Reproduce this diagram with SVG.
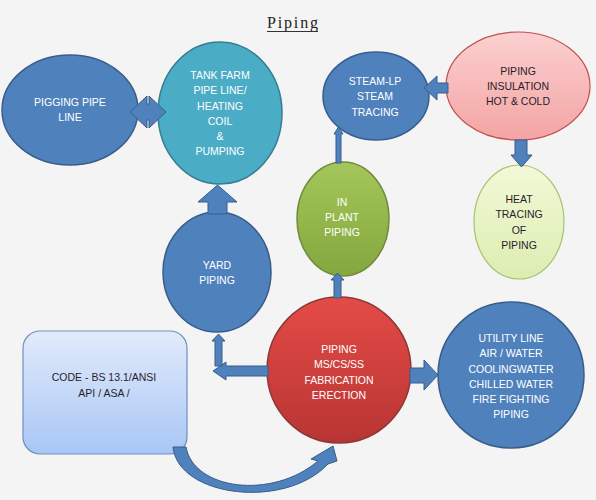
<svg xmlns="http://www.w3.org/2000/svg" width="596" height="500" viewBox="0 0 596 500">
<defs>
<linearGradient id="gRed" x1="0" y1="0" x2="0" y2="1"><stop offset="0" stop-color="#e44b47"/><stop offset="1" stop-color="#b83533"/></linearGradient>
<linearGradient id="gGreen" x1="0" y1="0" x2="0" y2="1"><stop offset="0" stop-color="#a4c65a"/><stop offset="1" stop-color="#84a83e"/></linearGradient>
<linearGradient id="gPink" x1="0" y1="0" x2="0" y2="1"><stop offset="0" stop-color="#fbd0d0"/><stop offset="1" stop-color="#f4a4a4"/></linearGradient>
<linearGradient id="gLight" x1="0" y1="0" x2="0" y2="1"><stop offset="0" stop-color="#f2f9d8"/><stop offset="1" stop-color="#dcedb0"/></linearGradient>
<linearGradient id="gCode" x1="0" y1="0" x2="0" y2="1"><stop offset="0" stop-color="#e2ebfb"/><stop offset="1" stop-color="#a8c6f6"/></linearGradient>
</defs>
<style>
.blue{fill:#4f81bd;stroke:#385d8a;stroke-width:1.5}
.teal{fill:#4bacc6;stroke:#357d91;stroke-width:1.5}
.red{fill:url(#gRed);stroke:#8c3836;stroke-width:1.5}
.green{fill:url(#gGreen);stroke:#71893f;stroke-width:1.5}
.pink{fill:url(#gPink);stroke:#c0504d;stroke-width:1.2}
.light{fill:url(#gLight);stroke:#a8c070;stroke-width:1.2}
.code{fill:url(#gCode);stroke:#6f8fbd;stroke-width:1.2}
.arr{fill:#4f81bd;stroke:#385d8a;stroke-width:1}
text{font-family:"Liberation Sans",Arial,sans-serif;font-size:10.5px;text-anchor:middle}
.w{fill:#ffffff}
.d{fill:#2a1c2c}
.title{font-family:"Liberation Serif","Times New Roman",serif;font-size:16px;fill:#222222;text-anchor:start}
</style>
<rect width="596" height="500" fill="#f4f4f4"/>
<g id="title">
<text class="title" x="267" y="28" textLength="51">Piping</text>
<line x1="267" y1="31.5" x2="318" y2="31.5" stroke="#333333" stroke-width="1"/>
</g>
<g id="pigging">
<ellipse class="blue" cx="70" cy="110" rx="68" ry="55"/>
<text class="w" x="70" y="106">PIGGING PIPE</text>
<text class="w" x="70" y="121">LINE</text>
</g>
<g id="tankfarm">
<ellipse class="teal" cx="220" cy="113" rx="62" ry="71"/>
<text class="w" x="220" y="79">TANK FARM</text>
<text class="w" x="220" y="94">PIPE LINE/</text>
<text class="w" x="220" y="109.5">HEATING</text>
<text class="w" x="220" y="125">COIL</text>
<text class="w" x="220" y="140">&amp;</text>
<text class="w" x="220" y="155">PUMPING</text>
</g>
<g id="steam">
<ellipse class="blue" cx="376" cy="96" rx="53" ry="44"/>
<text class="w" x="375" y="85">STEAM-LP</text>
<text class="w" x="375" y="100">STEAM</text>
<text class="w" x="375" y="116">TRACING</text>
</g>
<g id="insulation">
<ellipse class="pink" cx="518" cy="86" rx="72" ry="54"/>
<text class="d" x="518" y="75">PIPING</text>
<text class="d" x="518" y="90">INSULATION</text>
<text class="d" x="518" y="105">HOT &amp; COLD</text>
</g>
<g id="heattracing">
<ellipse class="light" cx="519" cy="222" rx="45" ry="57"/>
<text class="d" x="519" y="203">HEAT</text>
<text class="d" x="519" y="218">TRACING</text>
<text class="d" x="519" y="234">OF</text>
<text class="d" x="519" y="249">PIPING</text>
</g>
<g id="inplant">
<ellipse class="green" cx="343" cy="219" rx="46" ry="57"/>
<text class="w" x="342" y="206">IN</text>
<text class="w" x="342" y="221">PLANT</text>
<text class="w" x="342" y="236">PIPING</text>
</g>
<g id="yard">
<ellipse class="blue" cx="217" cy="272" rx="54" ry="60"/>
<text class="w" x="217" y="269">YARD</text>
<text class="w" x="217" y="284">PIPING</text>
</g>
<g id="code">
<rect class="code" x="23" y="331" width="164" height="123" rx="17" ry="17"/>
<text class="d" x="104" y="381">CODE - BS 13.1/ANSI</text>
<text class="d" x="104" y="397">API / ASA /</text>
</g>
<g id="fabrication">
<ellipse class="red" cx="339" cy="370" rx="72" ry="73"/>
<text class="w" x="339" y="353">PIPING</text>
<text class="w" x="339" y="368">MS/CS/SS</text>
<text class="w" x="339" y="384">FABRICATION</text>
<text class="w" x="339" y="399">ERECTION</text>
</g>
<g id="utility">
<ellipse class="blue" cx="511" cy="375" rx="73" ry="73"/>
<text class="w" x="511" y="342">UTILITY LINE</text>
<text class="w" x="511" y="357">AIR / WATER</text>
<text class="w" x="511" y="373">COOLINGWATER</text>
<text class="w" x="511" y="388">CHILLED WATER</text>
<text class="w" x="511" y="403">FIRE FIGHTING</text>
<text class="w" x="511" y="418">PIPING</text>
</g>
<g id="connectors">
<path class="arr" d="M130,112 L147,96 L147,104 L149,104 L149,96 L166,112 L149,128 L149,120 L147,120 L147,128 Z"/>
<path class="arr" d="M208,214 L208,202 L198,202 L217.5,185 L237,202 L227,202 L227,214 Z"/>
<path class="arr" d="M334,298 L334,280 L331,280 L337.5,273 L344,280 L341,280 L341,298 Z"/>
<path class="arr" d="M336,163 L336,134 L334,134 L338.5,127 L343,134 L341,134 L341,163 Z"/>
<path class="arr" d="M448,83 L437,83 L437,76 L424,88 L437,100 L437,93 L448,93 Z"/>
<path class="arr" d="M515,140 L515,155 L511,155 L521.5,167 L532,155 L527,155 L527,140 Z"/>
<path class="arr" d="M410,368 L424,368 L424,360 L438,375 L424,390 L424,383 L410,383 Z"/>
<path class="arr" d="M268,366 L226,366 L226,362 L213,371 L226,380 L226,376 L268,376 Z"/>
<path class="arr" d="M215,366 L215,341 L212,341 L218.5,334 L225,341 L222,341 L222,366 Z"/>
<path class="arr" d="M173,447 C178,497 285,510 328,464 L337,461 L333,446 L311,459 L318,461 C272,500 194,490 186,447 Z"/>
</g>
</svg>
